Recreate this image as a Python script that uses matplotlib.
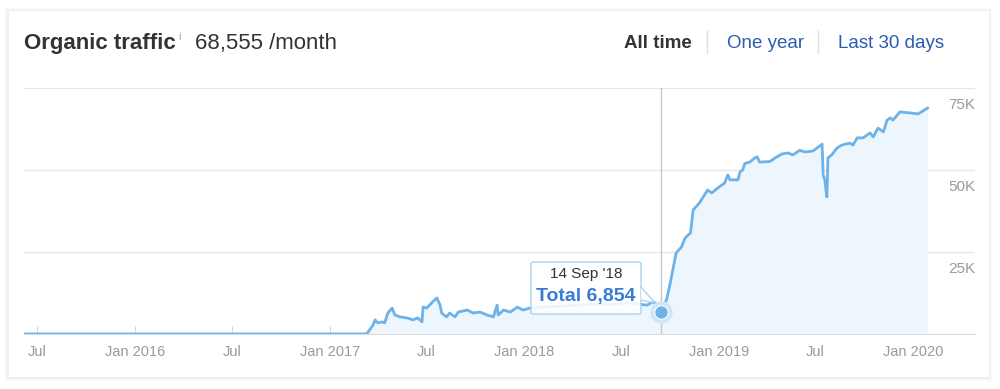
import matplotlib
matplotlib.use('Agg')
import matplotlib.pyplot as plt
from matplotlib.patches import FancyBboxPatch, Polygon
import pandas as pd

plt.rcParams['font.family'] = ['Liberation Sans', 'DejaVu Sans']

# organic traffic per month
dates = ['2015-06-07', '2017-03-08', '2017-03-12', '2017-03-23', '2017-03-27', '2017-04-01',
         '2017-04-09', '2017-04-14', '2017-04-20', '2017-04-28', '2017-05-03', '2017-05-13',
         '2017-05-26', '2017-06-06', '2017-06-15', '2017-06-23', '2017-06-25', '2017-07-02',
         '2017-07-11', '2017-07-21', '2017-07-27', '2017-07-30', '2017-08-08', '2017-08-14',
         '2017-08-24', '2017-08-30', '2017-09-16', '2017-09-27', '2017-10-10', '2017-10-23',
         '2017-11-04', '2017-11-11', '2017-11-13', '2017-11-23', '2017-12-06', '2017-12-19',
         '2017-12-30', '2018-01-11', '2018-02-10', '2018-03-09', '2018-04-15', '2018-05-23',
         '2018-06-20', '2018-07-18', '2018-08-19', '2018-08-31', '2018-09-07', '2018-09-14',
         '2018-09-25', '2018-10-02', '2018-10-13', '2018-10-23', '2018-10-30', '2018-11-09',
         '2018-11-14', '2018-11-26', '2018-12-11', '2018-12-19', '2018-12-30', '2019-01-12',
         '2019-01-18', '2019-01-22', '2019-02-06', '2019-02-10', '2019-02-15', '2019-02-19',
         '2019-02-28', '2019-03-10', '2019-03-14', '2019-03-19', '2019-04-07', '2019-04-20',
         '2019-04-30', '2019-05-11', '2019-05-20', '2019-06-02', '2019-06-12', '2019-06-27',
         '2019-07-14', '2019-07-16', '2019-07-19', '2019-07-23', '2019-07-25', '2019-08-01',
         '2019-08-11', '2019-08-20', '2019-09-04', '2019-09-10', '2019-09-18', '2019-09-29',
         '2019-10-12', '2019-10-18', '2019-10-27', '2019-11-06', '2019-11-13', '2019-11-19',
         '2019-11-24', '2019-12-07', '2019-12-26', '2020-01-10', '2020-01-19', '2020-01-28']
traffic = [0, 0, 200, 2700, 4300, 3400,
           3700, 3400, 6400, 7900, 5800, 5200,
           4900, 4300, 4900, 3700, 8200, 7900,
           9500, 11000, 8800, 6400, 5200, 6400,
           5200, 6700, 7300, 6400, 6700, 5800,
           5200, 8800, 5800, 7300, 6700, 8200,
           7300, 7900, 8300, 8500, 8800, 9200,
           9000, 9500, 8800, 9800, 9000, 6854,
           10400, 15500, 24700, 26500, 29300, 30800,
           37800, 40000, 43900, 43000, 44500, 46000,
           48500, 47000, 47000, 49400, 50000, 52000,
           52400, 53700, 54000, 52400, 52600, 54000,
           54900, 55200, 54600, 56000, 55500, 55800,
           57900, 48500, 47000, 41800, 53700, 54600,
           56700, 57600, 58200, 57600, 59800, 59800,
           61300, 60100, 62800, 61600, 65200, 65900,
           65200, 67700, 67400, 67100, 68000, 68900]

x_ticks = ['2015-07-01', '2016-01-01', '2016-07-01', '2017-01-01', '2017-07-01',
           '2018-01-01', '2018-07-01', '2019-01-01', '2019-07-01', '2020-01-01']
x_labels = ['Jul', 'Jan 2016', 'Jul', 'Jan 2017', 'Jul', 'Jan 2018', 'Jul', 'Jan 2019', 'Jul', 'Jan 2020']
y_ticks = [25000, 50000, 75000]
y_labels = ['25K', '50K', '75K']

hover_date = '2018-09-14'
hover_value = 6854

df = pd.DataFrame({'date': pd.to_datetime(dates), 'traffic': traffic})

W, H = 1000, 389
fig = plt.figure(figsize=(W / 100, H / 100), dpi=100)
fig.patch.set_facecolor('white')

def px(x, y):
    return x / W, 1 - y / H

# card with soft shadow
for i, a in enumerate([0.025, 0.018, 0.012, 0.008]):
    d = i + 1
    sh = FancyBboxPatch(px(8 - d, 378 + d), (981 + 2 * d) / W, (367 + 2 * d) / H,
                        boxstyle='square,pad=0', transform=fig.transFigure,
                        facecolor='black', edgecolor='none', alpha=a, zorder=-3)
    fig.patches.append(sh)
card = FancyBboxPatch(px(8, 377), 981 / W, 367 / H, boxstyle='square,pad=0',
                      transform=fig.transFigure, facecolor='white', edgecolor='#ececec',
                      lw=0.6, zorder=-2)
fig.patches.append(card)

ax = fig.add_axes([24 / W, (H - 334) / H, (975 - 24) / W, (334 - 88) / H])
ax.set_zorder(1)
ax.set_facecolor('none')
ax.set_xlim(pd.Timestamp('2015-06-07'), pd.Timestamp('2020-04-26'))
ax.set_ylim(0, 75000)

for v in y_ticks:
    ax.axhline(v, color='#e6e6e6', lw=1, zorder=1)
for s in ['top', 'left', 'right']:
    ax.spines[s].set_visible(False)
ax.spines['bottom'].set_color('#dcdcdc')
ax.set_yticks([])

ax.fill_between(df['date'], df['traffic'], color='#eef6fd', zorder=2, lw=0)
ax.plot(df['date'], df['traffic'], color='#6db2e8', lw=2, zorder=3, solid_joinstyle='round')

ax.set_xticks(pd.to_datetime(x_ticks))
ax.set_xticklabels(x_labels)
ax.tick_params(axis='x', direction='in', length=5.5, color='#d6d6d6', width=0.8,
               labelsize=10.5, labelcolor='#9a9a9a', pad=8)

for v, lab in zip(y_ticks, y_labels):
    ax.annotate(lab, xy=(1.0, v), xycoords=('axes fraction', 'data'),
                xytext=(0, -7), textcoords='offset points', ha='right', va='top',
                fontsize=11, color='#9a9a9a')

# hover marker
hd = pd.Timestamp(hover_date)
ax.axvline(hd, color='#c8c8c8', lw=1, zorder=4)
ax.scatter([hd], [hover_value], s=260, color='#cfe5f8', zorder=5, lw=0, clip_on=False)
ax.scatter([hd], [hover_value], s=95, color='#6db2e8', zorder=6, edgecolors='white', lw=0.8,
           clip_on=False)

# tooltip
tip = FancyBboxPatch(px(531, 314), 110 / W, 52 / H, boxstyle='round,pad=0,rounding_size=0.004',
                     transform=fig.transFigure, facecolor='white', edgecolor='#9fcdf0',
                     lw=1, alpha=0.88, zorder=10)
fig.patches.append(tip)
pointer = Polygon([px(641, 287), px(655, 303), px(641, 300)], closed=False,
                  transform=fig.transFigure, facecolor='white', edgecolor='#9fcdf0',
                  lw=1, alpha=0.88, zorder=10)
fig.patches.append(pointer)
fig.text(*px(586, 274), "14 Sep '18", ha='center', va='center', fontsize=11,
         color='#333333', zorder=11)
fig.text(*px(586, 297), 'Total {:,}'.format(hover_value), ha='center', va='center',
         fontsize=14, fontweight='bold', color='#3a7bd5', zorder=11)

# header
fig.text(*px(24, 43), 'Organic traffic', ha='left', va='center', fontsize=16,
         fontweight='bold', color='#333333')
fig.text(*px(178, 37), 'i', ha='left', va='center', fontsize=8, color='#aaaaaa')
fig.text(*px(195, 43), '68,555 /month', ha='left', va='center', fontsize=16, color='#333333')

fig.text(*px(692, 44), 'All time', ha='right', va='center', fontsize=13.5,
         fontweight='bold', color='#333333')
fig.text(*px(727, 44), 'One year', ha='left', va='center', fontsize=13.5, color='#2a5db0')
fig.text(*px(838, 44), 'Last 30 days', ha='left', va='center', fontsize=13.5, color='#2a5db0')
for sx in [707, 818]:
    fig.add_artist(plt.Line2D([sx / W, sx / W], [1 - 31 / H, 1 - 53 / H],
                              transform=fig.transFigure, color='#dddddd', lw=1))

fig.savefig('out.png', dpi=100, facecolor='white')
